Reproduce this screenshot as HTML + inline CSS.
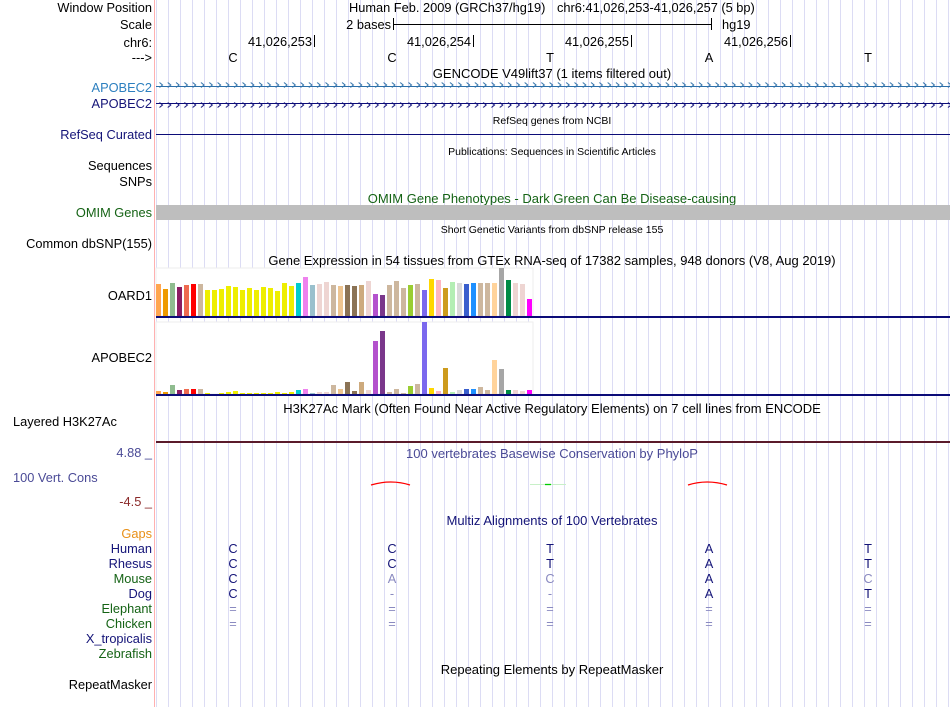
<!DOCTYPE html>
<html><head><meta charset="utf-8"><style>
body{margin:0;background:#fff;width:950px;height:707px;overflow:hidden;font-family:"Liberation Sans",sans-serif}
svg text{font-family:"Liberation Sans",sans-serif}
</style></head><body>
<svg id="b" width="950" height="707" xmlns="http://www.w3.org/2000/svg">
<defs>
<pattern id="chev1" x="157" y="0" width="8.3" height="10" patternUnits="userSpaceOnUse"><path d="M2.5 2.5 L5.5 5 L2.5 7.5" stroke="#2c6fa8" fill="none" stroke-width="1"/></pattern>
<pattern id="chev2" x="157" y="0" width="8.3" height="10" patternUnits="userSpaceOnUse"><path d="M2.5 2.5 L5.5 5 L2.5 7.5" stroke="#0c0c78" fill="none" stroke-width="1"/></pattern>
</defs>
<g id="grid"></g>
<line x1="154.5" y1="0" x2="154.5" y2="707" stroke="#ffb0b0" stroke-width="1"/>
<g font-size="12.8" text-anchor="end">
<text x="152" y="12" fill="#000">Window Position</text>
<text x="152" y="29" fill="#000">Scale</text>
<text x="152" y="47" fill="#000">chr6:</text>
<text x="152" y="62" fill="#000">---&gt;</text>
<text x="152" y="92" fill="#2c7fbf">APOBEC2</text>
<text x="152" y="108" fill="#141478">APOBEC2</text>
<text x="152" y="139" fill="#141478">RefSeq Curated</text>
<text x="152" y="170" fill="#000">Sequences</text>
<text x="152" y="186" fill="#000">SNPs</text>
<text x="152" y="217" fill="#156315">OMIM Genes</text>
<text x="152" y="248" fill="#000">Common dbSNP(155)</text>
<text x="152" y="300" fill="#000">OARD1</text>
<text x="152" y="362" fill="#000">APOBEC2</text>
<text x="13" y="426" fill="#000" text-anchor="start">Layered H3K27Ac</text>
<text x="152" y="457" fill="#4a4a96">4.88 _</text>
<text x="13" y="482" fill="#4a4a96" text-anchor="start">100 Vert. Cons</text>
<text x="152" y="506" fill="#8b2a2a">-4.5 _</text>
<text x="152" y="538" fill="#e89018">Gaps</text>
<text x="152" y="553" fill="#141478">Human</text>
<text x="152" y="568" fill="#141478">Rhesus</text>
<text x="152" y="583" fill="#156315">Mouse</text>
<text x="152" y="598" fill="#141478">Dog</text>
<text x="152" y="613" fill="#156315">Elephant</text>
<text x="152" y="628" fill="#156315">Chicken</text>
<text x="152" y="643" fill="#141478">X_tropicalis</text>
<text x="152" y="658" fill="#156315">Zebrafish</text>
<text x="152" y="689" fill="#000">RepeatMasker</text>
</g>
<g font-size="12.8">
<text x="349" y="12" fill="#000">Human Feb. 2009 (GRCh37/hg19)</text>
<text x="557" y="12" fill="#000">chr6:41,026,253-41,026,257 (5 bp)</text>
<text x="391" y="29" text-anchor="end" fill="#000">2 bases</text>
<line x1="393.5" y1="18" x2="393.5" y2="30" stroke="#000"/><line x1="711.5" y1="18" x2="711.5" y2="30" stroke="#000"/>
<line x1="394" y1="24.5" x2="711" y2="24.5" stroke="#000"/>
<text x="722" y="29" fill="#000">hg19</text>
<text x="312" y="46" text-anchor="end" fill="#000">41,026,253</text><line x1="314.5" y1="35" x2="314.5" y2="47" stroke="#000"/>
<text x="471" y="46" text-anchor="end" fill="#000">41,026,254</text><line x1="473.5" y1="35" x2="473.5" y2="47" stroke="#000"/>
<text x="629" y="46" text-anchor="end" fill="#000">41,026,255</text><line x1="631.5" y1="35" x2="631.5" y2="47" stroke="#000"/>
<text x="788" y="46" text-anchor="end" fill="#000">41,026,256</text><line x1="790.5" y1="35" x2="790.5" y2="47" stroke="#000"/>
<g id="bases" text-anchor="middle"></g>
</g>
<g font-size="13" text-anchor="middle">
<text x="552" y="78" fill="#000">GENCODE V49lift37 (1 items filtered out)</text>
<text x="552" y="124" font-size="10.5" fill="#000">RefSeq genes from NCBI</text>
<text x="552" y="155" font-size="10.5" fill="#000">Publications: Sequences in Scientific Articles</text>
<text x="552" y="203" fill="#156315">OMIM Gene Phenotypes - Dark Green Can Be Disease-causing</text>
<text x="552" y="233" font-size="10.5" fill="#000">Short Genetic Variants from dbSNP release 155</text>
<text x="552" y="265" fill="#000">Gene Expression in 54 tissues from GTEx RNA-seq of 17382 samples, 948 donors (V8, Aug 2019)</text>
<text x="552" y="413" fill="#000">H3K27Ac Mark (Often Found Near Active Regulatory Elements) on 7 cell lines from ENCODE</text>
<text x="552" y="458" fill="#4a4a96">100 vertebrates Basewise Conservation by PhyloP</text>
<text x="552" y="525" fill="#141478">Multiz Alignments of 100 Vertebrates</text>
<text x="552" y="674" fill="#000">Repeating Elements by RepeatMasker</text>
</g>
<g>
<line x1="156" y1="86.5" x2="950" y2="86.5" stroke="#2c6fa8"/><rect x="156" y="81" width="794" height="11" fill="url(#chev1)"/>
<line x1="156" y1="103.5" x2="950" y2="103.5" stroke="#0c0c78"/><rect x="156" y="98" width="794" height="11" fill="url(#chev2)"/>
<line x1="156" y1="134.5" x2="950" y2="134.5" stroke="#0c0c78"/>
<rect x="156" y="205" width="794" height="15" fill="#bebebe"/>
</g>
<rect x="156" y="268" width="377" height="48" fill="#fff" stroke="#eee"/>
<rect x="156" y="322" width="377" height="72" fill="#fff" stroke="#eee"/>
<g id="bars1"></g>
<g id="bars2"></g>
<rect x="156" y="316" width="794" height="2" fill="#0c0c78"/>
<rect x="156" y="394" width="794" height="2" fill="#0c0c78"/>
<rect x="156" y="441" width="794" height="2" fill="#5a1a2a"/>
<g fill="none" stroke-width="1.3">
<path d="M371 485 Q391 479 410 485" stroke="#ff0000"/>
<path d="M688 485 Q707 479 727 485" stroke="#ff0000"/>
<line x1="530" y1="484.5" x2="566" y2="484.5" stroke="#c8f0c8" stroke-width="1"/>
<line x1="545" y1="484.5" x2="551" y2="484.5" stroke="#00cc00"/>
</g>
<g id="multiz" font-size="12.8" text-anchor="middle"></g>
<script>
const svgNS="http://www.w3.org/2000/svg";
const basePos=[233,392,550,709,868];
const refBases=["C","C","T","A","T"];
const tissueColors=["#FFA54F","#EE9A00","#8FBC8F","#8B1C62","#EE6A50","#FF0000","#CDB79E","#EEEE00","#EEEE00","#EEEE00","#EEEE00","#EEEE00","#EEEE00","#EEEE00","#EEEE00","#EEEE00","#EEEE00","#EEEE00","#EEEE00","#EEEE00","#00CDCD","#EE82EE","#9AC0CD","#EED5D2","#EED5D2","#CDB79E","#EEC591","#8B7355","#8B7355","#CDAA7D","#EED5D2","#B452CD","#7A378B","#CDB79E","#CDB79E","#CDB79E","#9ACD32","#CDB79E","#7B68EE","#FFD700","#FFB6C1","#CD9B1D","#B4EEB4","#D9D9D9","#3A5FCD","#1E90FF","#CDB79E","#CDB79E","#FFD39B","#A6A6A6","#008B45","#EED5D2","#EED5D2","#FF00FF"];
const oard1Values=[32,27,33,29,31,32,32,26,26,27,30,29,26,28,26,29,28,25,33,30,33,39,31,32,34,31,30,31,30,31,35,22,21,31,35,28,31,32,26,37,36,28,34,33,32,33,33,33,33,48,36,33,32,17];
const apobec2Values=[3,2,9,4,5,5,5,1,0,1,2,3,1,1,1,1,1,2,1,2,4,5,1,2,2,9,5,12,3,12,4,53,63,2,5,1,8,10,72,6,3,26,2,4,5,5,7,4,34,25,4,4,3,4];
const multizRows=[
 ["C","C","T","A","T"],
 ["C","C","T","A","T"],
 ["C","A","C","A","C"],
 ["C","-","-","A","T"],
 ["=","=","=","=","="],
 ["=","=","=","=","="]];
const multizLight=[[0,0,0,0,0],[0,0,0,0,0],[0,1,1,0,1],[0,1,1,0,0],[1,1,1,1,1],[1,1,1,1,1]];
const multizY=[553,568,583,598,613,628];
function mk(tag,attrs,parent){const e=document.createElementNS(svgNS,tag);for(const k in attrs)e.setAttribute(k,attrs[k]);parent.appendChild(e);return e;}
const grid=document.getElementById('grid');
for(let x=156;x<950;x+=12){
 const l=mk('line',{x1:x+0.5,y1:0,x2:x+0.5,y2:707,stroke:'#dcdcf4'},grid);
 
 
}
const bases=document.getElementById('bases');
refBases.forEach((b,i)=>{const t=mk('text',{x:basePos[i],y:62,fill:'#000'},bases);t.textContent=b;
 
 });
const xBar=i=>156+7*i;
const y1=v=>316-v;
const y2=v=>394-v;
const g1=document.getElementById('bars1'),g2=document.getElementById('bars2');
oard1Values.forEach((v,i)=>{const r=mk('rect',{x:xBar(i),y:y1(v),width:5,height:v,fill:tissueColors[i]},g1);
 
 });
apobec2Values.forEach((v,i)=>{const r=mk('rect',{x:xBar(i),y:y2(v),width:5,height:Math.max(v,0.5),fill:tissueColors[i]},g2);
 
 });
const mz=document.getElementById('multiz');
multizRows.forEach((row,r)=>row.forEach((b,i)=>{
 const t=mk('text',{x:basePos[i],y:multizY[r],fill:multizLight[r][i]?'#8a8ac0':'#141478'},mz);t.textContent=b;
 
 }));
</script>
</svg>
</body></html>
